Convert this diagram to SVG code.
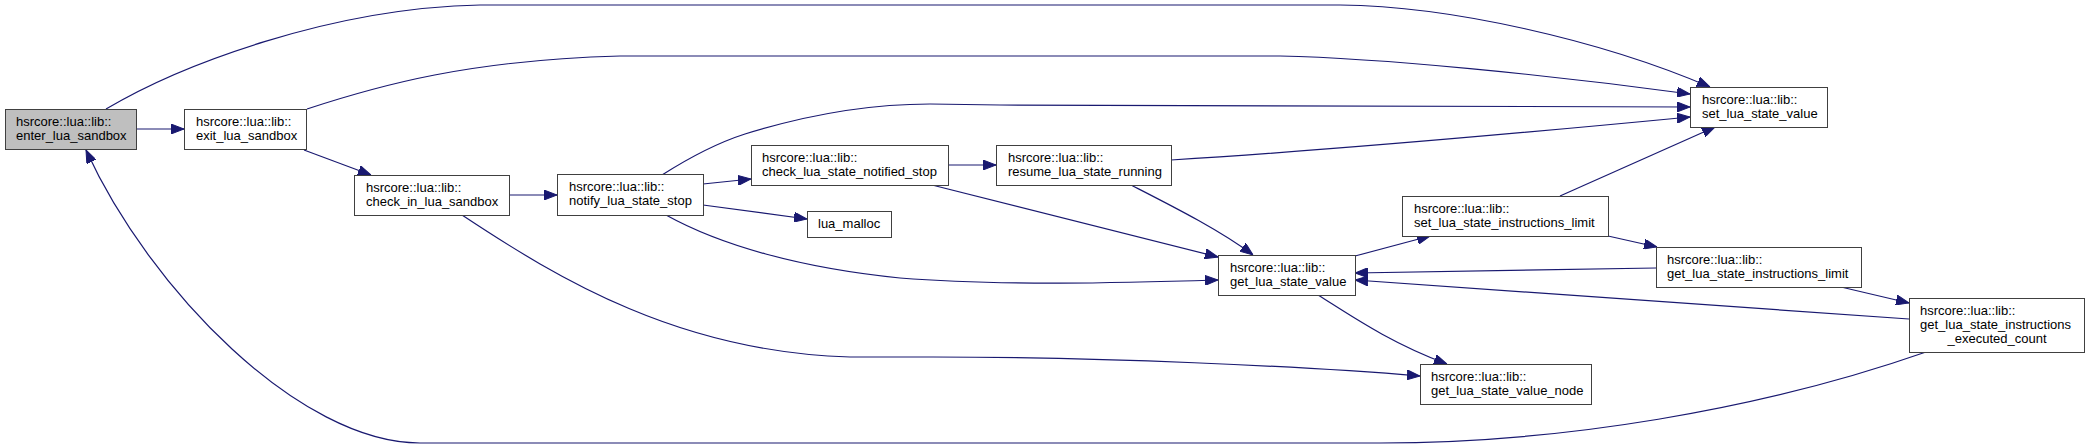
<svg xmlns="http://www.w3.org/2000/svg" width="2089" height="448" viewBox="0 0 2089 448">
<style>
.edge{fill:none;stroke:#191970;stroke-width:1.2}
.node rect{fill:#ffffff;stroke:#404040;stroke-width:1}
.node.root rect{fill:#bfbfbf}
.node text{font-family:"Liberation Sans",Arial,sans-serif;font-size:13px;fill:#000000}
</style>
<defs>
<marker id="arr" markerUnits="userSpaceOnUse" viewBox="0 0 13 10" refX="13" refY="5" markerWidth="13" markerHeight="10" orient="auto">
<path d="M0,0 L13,5 L0,10 z" fill="#191970" stroke="#191970" stroke-width="1"/>
</marker>
</defs>
<rect x="0" y="0" width="2089" height="448" fill="#ffffff"/>
<g id="connectors">
<path class="edge" marker-end="url(#arr)" d="M106,109 C 180,65 330,8 480,5 L 1340,5 C 1450,6 1600,40 1710,87"/>
<path class="edge" marker-end="url(#arr)" d="M136,129 L184,129"/>
<path class="edge" marker-end="url(#arr)" d="M307,109 C 380,85 470,60 620,56 L 1280,56 C 1380,58 1550,75 1690,94"/>
<path class="edge" marker-end="url(#arr)" d="M304,150 L371,175"/>
<path class="edge" marker-end="url(#arr)" d="M509,195 L557,195"/>
<path class="edge" marker-end="url(#arr)" d="M462,215 C 560,280 680,352 850,357 L 933,357 C 1100,357 1300,366 1420,376"/>
<path class="edge" marker-end="url(#arr)" d="M662,175 C 695,154 720,142 745,134 C 800,117 860,104 930,104 L 1000,105 L 1690,107"/>
<path class="edge" marker-end="url(#arr)" d="M703,184 L751,179"/>
<path class="edge" marker-end="url(#arr)" d="M703,205 L807,219"/>
<path class="edge" marker-end="url(#arr)" d="M666,215 C 720,245 800,268 900,278 C 1000,286 1120,283 1218,280"/>
<path class="edge" marker-end="url(#arr)" d="M948,165 L996,165"/>
<path class="edge" marker-end="url(#arr)" d="M932,185 L1218,257"/>
<path class="edge" marker-end="url(#arr)" d="M1171,160 C 1300,152 1450,140 1690,117"/>
<path class="edge" marker-end="url(#arr)" d="M1131,185 C 1170,205 1220,230 1253,255"/>
<path class="edge" marker-end="url(#arr)" d="M1355,256 L1430,236"/>
<path class="edge" marker-end="url(#arr)" d="M1318,295 C 1350,315 1390,343 1447,364"/>
<path class="edge" marker-end="url(#arr)" d="M1560,196 L1715,127"/>
<path class="edge" marker-end="url(#arr)" d="M1608,236 L1657,247"/>
<path class="edge" marker-end="url(#arr)" d="M1656,268 C 1550,269 1450,271 1355,273"/>
<path class="edge" marker-end="url(#arr)" d="M1841,287 L1909,303"/>
<path class="edge" marker-end="url(#arr)" d="M1909,319 L1355,280"/>
<path class="edge" marker-end="url(#arr)" d="M1926,352 C 1760,410 1560,443 1380,443 L 420,443 C 300,443 150,290 86,150"/>
</g>
<g id="enter_lua_sandbox" class="node root">
<rect x="5.5" y="109.5" width="131" height="40"/>
<text x="16" y="126">hsrcore::lua::lib::</text>
<text x="16" y="140">enter_lua_sandbox</text>
</g>
<g id="exit_lua_sandbox" class="node">
<rect x="184.5" y="109.5" width="122" height="40"/>
<text x="196" y="126">hsrcore::lua::lib::</text>
<text x="196" y="140">exit_lua_sandbox</text>
</g>
<g id="check_in_lua_sandbox" class="node">
<rect x="354.5" y="175.5" width="155" height="40"/>
<text x="366" y="192">hsrcore::lua::lib::</text>
<text x="366" y="206">check_in_lua_sandbox</text>
</g>
<g id="notify_lua_state_stop" class="node">
<rect x="557.5" y="174.5" width="146" height="41"/>
<text x="569" y="191">hsrcore::lua::lib::</text>
<text x="569" y="205">notify_lua_state_stop</text>
</g>
<g id="check_lua_state_notified_stop" class="node">
<rect x="751.5" y="145.5" width="197" height="40"/>
<text x="762" y="162">hsrcore::lua::lib::</text>
<text x="762" y="176">check_lua_state_notified_stop</text>
</g>
<g id="lua_malloc" class="node">
<rect x="807.5" y="211.5" width="84" height="26"/>
<text x="818" y="228">lua_malloc</text>
</g>
<g id="resume_lua_state_running" class="node">
<rect x="996.5" y="145.5" width="175" height="40"/>
<text x="1008" y="162">hsrcore::lua::lib::</text>
<text x="1008" y="176">resume_lua_state_running</text>
</g>
<g id="set_lua_state_value" class="node">
<rect x="1690.5" y="87.5" width="137" height="40"/>
<text x="1702" y="104">hsrcore::lua::lib::</text>
<text x="1702" y="118">set_lua_state_value</text>
</g>
<g id="get_lua_state_value" class="node">
<rect x="1218.5" y="255.5" width="137" height="40"/>
<text x="1230" y="272">hsrcore::lua::lib::</text>
<text x="1230" y="286">get_lua_state_value</text>
</g>
<g id="set_lua_state_instructions_limit" class="node">
<rect x="1402.5" y="196.5" width="206" height="40"/>
<text x="1414" y="213">hsrcore::lua::lib::</text>
<text x="1414" y="227">set_lua_state_instructions_limit</text>
</g>
<g id="get_lua_state_instructions_limit" class="node">
<rect x="1656.5" y="247.5" width="205" height="40"/>
<text x="1667" y="264">hsrcore::lua::lib::</text>
<text x="1667" y="278">get_lua_state_instructions_limit</text>
</g>
<g id="get_lua_state_instructions_executed_count" class="node">
<rect x="1909.5" y="298.5" width="175" height="54"/>
<text x="1920" y="315">hsrcore::lua::lib::</text>
<text x="1920" y="329">get_lua_state_instructions</text>
<text x="1997" y="343" text-anchor="middle">_executed_count</text>
</g>
<g id="get_lua_state_value_node" class="node">
<rect x="1420.5" y="364.5" width="171" height="40"/>
<text x="1431" y="381">hsrcore::lua::lib::</text>
<text x="1431" y="395">get_lua_state_value_node</text>
</g>
</svg>
